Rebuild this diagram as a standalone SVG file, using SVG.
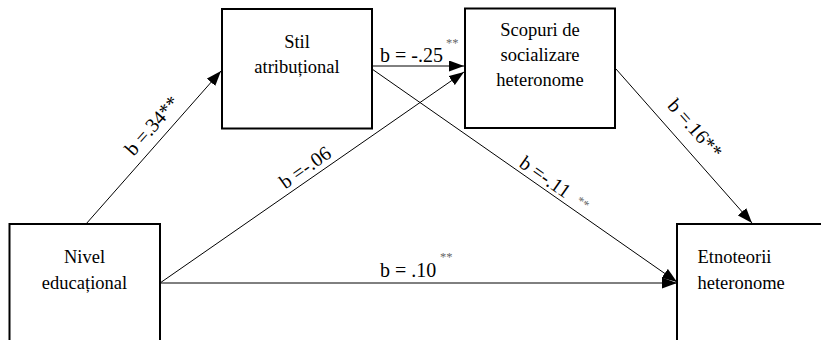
<svg xmlns="http://www.w3.org/2000/svg" width="821" height="340" viewBox="0 0 821 340">
<style>
.box{fill:#fff;stroke:#000;stroke-width:2}
.nt{font-family:'Liberation Serif','Times New Roman',serif;font-size:18.5px;fill:#000}
.lb{font-family:'Liberation Serif','Times New Roman',serif;font-size:20px;fill:#000}
.sup{font-family:'Liberation Serif','Times New Roman',serif;font-size:12.5px;fill:#666}
.ln{stroke:#000;stroke-width:1;fill:none}
</style>
<defs>
<marker id="ah" markerUnits="userSpaceOnUse" markerWidth="15" markerHeight="11" refX="15" refY="5.5" orient="auto">
<path d="M0,0 L15,5.5 L0,11 z" fill="#000"/>
</marker>
</defs>
<rect width="821" height="340" fill="#fff"/>
<g id="connectors">
<line class="ln" x1="86" y1="224" x2="221" y2="71" marker-end="url(#ah)"/>
<line class="ln" x1="160" y1="283" x2="464" y2="72" marker-end="url(#ah)"/>
<line class="ln" x1="160" y1="283" x2="677" y2="283" marker-end="url(#ah)"/>
<line class="ln" x1="372" y1="66" x2="464" y2="66" marker-end="url(#ah)"/>
<line class="ln" x1="372" y1="69" x2="677" y2="282" marker-end="url(#ah)"/>
<line class="ln" x1="616" y1="69" x2="752" y2="223" marker-end="url(#ah)"/>
<text class="lb" text-anchor="middle" transform="translate(157,130) rotate(-48.7)">b =.34**</text>
<text class="lb" text-anchor="middle" transform="translate(309,173) rotate(-35)">b =-.06</text>
<text class="lb" x="380" y="61.5">b = -.25</text>
<text class="sup" x="446" y="47">**</text>
<text class="lb" x="380" y="277">b = .10</text>
<text class="sup" x="440" y="261">**</text>
<g transform="translate(518,166) rotate(35)">
<text class="lb" x="0" y="0">b =-.11</text>
<text class="sup" x="68" y="-3">**</text>
</g>
<text class="lb" text-anchor="middle" transform="translate(690,133) rotate(48.7)">b =.16**</text>
</g>
<g id="nivel">
<rect class="box" x="9.5" y="224" width="150.5" height="130"/>
<text class="nt" text-anchor="middle" x="84.5" y="263">Nivel</text>
<text class="nt" text-anchor="middle" x="84.5" y="289">educațional</text>
</g>
<g id="stil">
<rect class="box" x="222" y="9" width="150" height="119.5"/>
<text class="nt" text-anchor="middle" x="297" y="48">Stil</text>
<text class="nt" text-anchor="middle" x="297" y="73">atribuțional</text>
</g>
<g id="scopuri">
<rect class="box" x="465" y="8.5" width="150" height="119.5"/>
<text class="nt" text-anchor="middle" x="540" y="36">Scopuri de</text>
<text class="nt" text-anchor="middle" x="540" y="61">socializare</text>
<text class="nt" text-anchor="middle" x="540" y="86">heteronome</text>
</g>
<g id="etnoteorii">
<rect class="box" x="677" y="224" width="160" height="130"/>
<text class="nt" x="697.5" y="263">Etnoteorii</text>
<text class="nt" x="697.5" y="289">heteronome</text>
</g>
</svg>
